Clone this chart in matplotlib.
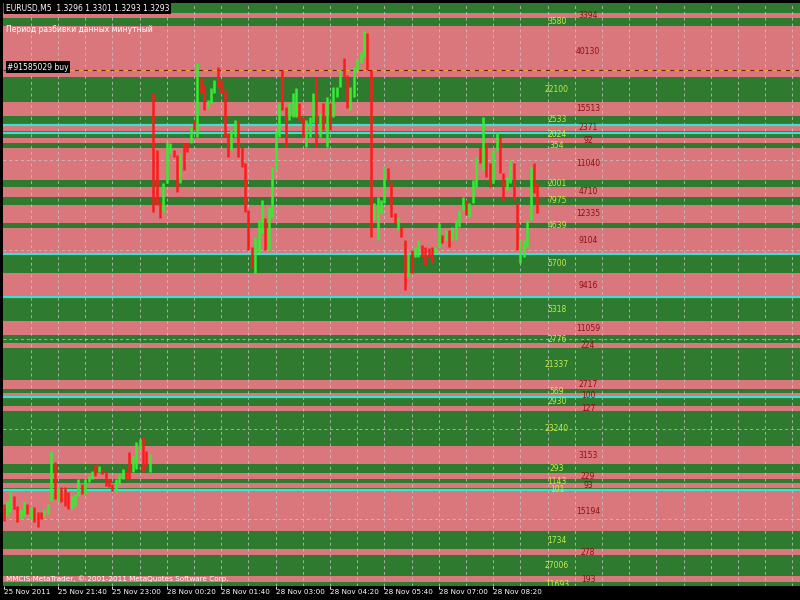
import matplotlib
matplotlib.use('Agg')
import matplotlib.pyplot as plt
import matplotlib.transforms as mtransforms

POINT = 0.00001

# EURUSD M5, 25 Nov 2011 20:20 .. 28 Nov 2011 09:25, prices in points
opens = [
    # Friday 25 Nov
    131475, 131415, 131435, 131515, 131465, 131400, 131415, 131475, 131400, 131460,
    131435, 131435, 131415, 131425, 131490, 131685, 131490, 131560, 131560, 131535,
    131450, 131465, 131515, 131575, 131525, 131585, 131600, 131675, 131635, 131650,
    131640, 131600, 131575, 131535, 131575, 131600, 131640, 131735, 131635, 131650,
    131750, 131810, 131740, 131635,
    # Monday 28 Nov
    133535, 133250, 132990, 132940, 133085, 133235, 133250, 133225, 133085, 133285,
    133285, 133285, 133400, 133315, 133610, 133575, 133460, 133485, 133535, 133665,
    133600, 133550, 133335, 133250, 133315, 133400, 133265, 133185, 132950, 132765,
    132635, 132735, 132835, 132910, 132750, 132915, 133150, 133315, 133650, 133465,
    133400, 133415, 133415, 133485, 133415, 133265, 133315, 133385, 133615, 133315,
    133485, 133265, 133485, 133415, 133515, 133565, 133710, 133625, 133450, 133515,
    133650, 133685, 133715, 133835, 133650, 132900, 132800, 132935, 132985, 133160,
    133090, 132935, 132850, 132865, 132800, 132615, 132750, 132715, 132715, 132775,
    132765, 132760, 132765, 132735, 132765, 132825, 132800, 132850, 132800, 132800,
    132865, 132950, 133000, 132915, 132985, 133065, 133265, 133150, 133285, 133185,
    133085, 133250, 133315, 133135, 133050, 133085, 133185, 132985, 132685, 132715,
    132765, 132900, 133185, 133085,
]
closes = [
    131390, 131490, 131535, 131450, 131385, 131450, 131490, 131425, 131460, 131385,
    131360, 131400, 131450, 131475, 131740, 131500, 131560, 131485, 131465, 131450,
    131515, 131525, 131600, 131525, 131600, 131615, 131640, 131615, 131665, 131625,
    131565, 131560, 131540, 131600, 131625, 131650, 131600, 131600, 131715, 131785,
    131800, 131635, 131665, 131725,
    132940, 132975, 132910, 133085, 133290, 133285, 133215, 133040, 133235, 133150,
    133240, 133365, 133350, 133685, 133535, 133450, 133500, 133560, 133600, 133565,
    133535, 133315, 133215, 133350, 133400, 133215, 133165, 132940, 132750, 132660,
    132815, 132900, 133000, 132750, 132965, 133165, 133350, 133485, 133450, 133265,
    133485, 133535, 133560, 133400, 133315, 133400, 133415, 133535, 133265, 133435,
    133350, 133515, 133350, 133565, 133565, 133650, 133615, 133460, 133565, 133665,
    133700, 133740, 133850, 133650, 132815, 132985, 133015, 133000, 133165, 133100,
    132915, 132885, 132915, 132815, 132550, 132735, 132635, 132765, 132800, 132715,
    132675, 132715, 132685, 132765, 132885, 132785, 132850, 132765, 132865, 132900,
    132950, 133015, 132925, 132985, 133100, 133215, 133185, 133415, 133115, 133065,
    133250, 133340, 133135, 133000, 133115, 133200, 133000, 132750, 132800, 132800,
    132900, 133165, 133035, 132935,
]

# volume zones: edges from top to bottom, first zone green, then alternating
band_edges = [
    133985, 133935, 133910, 133870, 133615, 133490, 133420, 133380, 133345, 133310,
    133285, 133260, 133100, 133065, 133015, 132975, 132885, 132860, 132730, 132635,
    132510, 132390, 132320, 132280, 132255, 132095, 132050, 132030, 132010, 131965,
    131940, 131765, 131675, 131630, 131600, 131580, 131555, 131540, 131340, 131250,
    131220, 131115, 131085, 131065,
]
band_labels = [
    '', '3394', '3580', '40130', '22100', '15513', '2533', '2371', '2024', '92',
    '354', '11040', '2001', '4710', '7975', '12335', '4639', '9104', '5700', '9416',
    '5318', '11059', '2776', '224', '21337', '2717', '569', '100', '2930', '127',
    '23240', '3153', '293', '229', '1143', '93', '101', '15194', '1734', '278',
    '27006', '193', '11693',
]

level_lines = [133375, 133335, 132730, 132510, 132010, 131545]
grid_levels = [133650, 133200, 132750, 132300, 131850, 131400]
order_price = 133650

tick_bars = [0, 16, 32, 48, 64, 80, 96, 112, 128, 144]
tick_labels = ['25 Nov 2011', '25 Nov 21:40', '25 Nov 23:00', '28 Nov 00:20',
               '28 Nov 01:40', '28 Nov 03:00', '28 Nov 04:20', '28 Nov 05:40',
               '28 Nov 07:00', '28 Nov 08:20']

GREEN = '#2e7a2e'
PINK = '#da777d'
BULL = '#33ee33'
BEAR = '#ff1a1a'

fig = plt.figure(figsize=(8, 6), dpi=100, facecolor='black')
ax = fig.add_axes([3 / 800, 14 / 600, 797 / 800, 583 / 600])
ax.set_facecolor('black')

px_per_bar = 3.40
xmin = -0.15
ax.set_xlim(xmin, xmin + 797 / px_per_bar)
ax.set_ylim(band_edges[-1] * POINT, band_edges[0] * POINT)

blend = mtransforms.blended_transform_factory(ax.transAxes, ax.transData)

# zones
for i in range(len(band_edges) - 1):
    top, bot = band_edges[i] * POINT, band_edges[i + 1] * POINT
    is_green = i % 2 == 0
    ax.axhspan(bot, top, color=GREEN if is_green else PINK, lw=0, zorder=0)
    if band_labels[i]:
        ax.text(0.695 if is_green else 0.734, (top + bot) / 2, band_labels[i],
                transform=blend, ha='center', va='center', fontsize=5.5,
                color='#c4ee4a' if is_green else '#8e0e0e', zorder=3, clip_on=True)

# grid
for b in range(8, 240, 8):
    ax.axvline(b, color='#c8c8c8', lw=0.7, ls=(0, (3, 3)), alpha=0.75, zorder=1)
for g in grid_levels:
    ax.axhline(g * POINT, color='#c8c8c8', lw=0.7, ls=(0, (3, 3)), alpha=0.75, zorder=1)

for lv in level_lines:
    ax.axhline(lv * POINT, color='#3fe0d0', lw=1.6, zorder=2)

# open order line
ax.axhline(order_price * POINT, color='#6a1f1f', lw=0.8, ls=(0, (4, 4)), zorder=2)
ax.axhline(order_price * POINT, color='#ff9933', lw=0.8, ls=(4, (4, 4)), zorder=2)

# candles
xs = list(range(len(opens)))
lows = [min(o, c) * POINT for o, c in zip(opens, closes)]
highs = [max(o, c) * POINT for o, c in zip(opens, closes)]
cols = [BULL if c >= o else BEAR for o, c in zip(opens, closes)]
ax.vlines(xs, lows, highs, colors=cols, linewidth=1.8, zorder=4)

for s in ax.spines.values():
    s.set_visible(False)
ax.set_yticks([])
ax.set_xticks(tick_bars)
ax.set_xticklabels(tick_labels, ha='left')
ax.tick_params(axis='x', colors='white', labelsize=5.2, length=2, width=0.6, pad=0.5)

fig.text(6 / 800, 1 - 8 / 600, 'EURUSD,M5  1.3296 1.3301 1.3293 1.3293',
         color='white', fontsize=5.5, va='center', ha='left',
         bbox=dict(facecolor='black', edgecolor='none', pad=1.2))
fig.text(6 / 800, 1 - 30 / 600, 'Период разбивки данных минутный',
         color='white', fontsize=5.5, va='center', ha='left')
fig.text(7 / 800, 1 - 67 / 600, '#91585029 buy',
         color='white', fontsize=5.5, va='center', ha='left', zorder=5,
         bbox=dict(facecolor='black', edgecolor='none', pad=1.0))
fig.text(6 / 800, 1 - 579 / 600, 'MMCIS MetaTrader, © 2001-2011 MetaQuotes Software Corp.',
         color='white', fontsize=5.2, va='center', ha='left')

plt.savefig('out.png', dpi=100, facecolor='black')
plt.close()
